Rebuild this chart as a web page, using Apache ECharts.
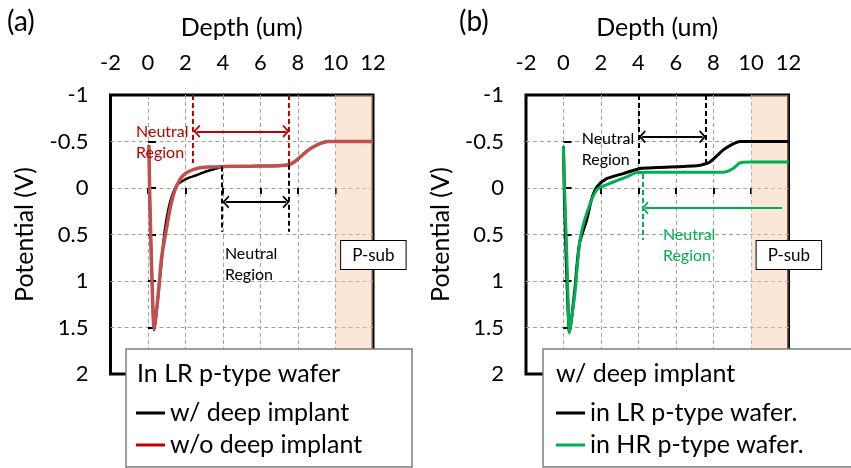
<!DOCTYPE html>
<html><head><meta charset="utf-8">
<script src="https://cdn.jsdelivr.net/npm/echarts/dist/echarts.min.js"></script>
<style>html,body{margin:0;padding:0;background:#fff;}#c{width:851px;height:468px;}</style>
</head><body><div id="c"></div>
<script>
const FONT = 'Lato, "Open Sans", sans-serif';
// ---- axis settings ----
const depthMin = -2, depthMax = 12, depthStep = 2;
const potMin = -1, potMax = 2, potStep = 0.5;
const psubRange = [10, 12];

// ---- panel (a): LR p-type wafer ----
const aDeepX = [0.05, 0.10, 0.20, 0.28, 0.32, 0.40, 0.55, 0.73, 0.90, 1.17, 1.53, 1.80, 2.06, 2.60, 3.13, 3.84, 4.20, 5.50, 7.00, 7.50, 7.80, 8.10, 8.50, 8.80, 9.20, 9.60, 10.0, 12.0];
const aDeepY = [-0.46, 0.16, 0.90, 1.40, 1.53, 1.43, 1.15, 0.78, 0.45, 0.16, -0.03, -0.07, -0.10, -0.14, -0.18, -0.22, -0.23, -0.235, -0.24, -0.25, -0.28, -0.33, -0.40, -0.44, -0.48, -0.50, -0.50, -0.50];
const aNoDeepX = [0.05, 0.10, 0.20, 0.28, 0.33, 0.40, 0.55, 0.73, 1.00, 1.20, 1.44, 1.70, 1.90, 2.20, 2.60, 3.20, 4.00, 5.50, 7.00, 7.50, 7.80, 8.10, 8.50, 8.80, 9.20, 9.60, 10.0, 12.0];
const aNoDeepY = [-0.46, 0.16, 0.90, 1.40, 1.52, 1.42, 1.13, 0.74, 0.42, 0.20, 0.02, -0.09, -0.14, -0.18, -0.21, -0.225, -0.23, -0.235, -0.24, -0.25, -0.28, -0.33, -0.40, -0.44, -0.48, -0.50, -0.50, -0.50];

// ---- panel (b): with deep implant ----
const bLRX = [0.00, 0.05, 0.15, 0.25, 0.31, 0.40, 0.60, 0.85, 1.24, 1.50, 1.77, 2.30, 3.19, 4.08, 5.00, 7.10, 7.50, 7.81, 8.20, 8.52, 9.00, 9.41, 10.0, 12.0];
const bLRY = [-0.45, 0.10, 0.80, 1.35, 1.55, 1.45, 1.10, 0.60, 0.34, 0.12, -0.01, -0.10, -0.155, -0.21, -0.22, -0.24, -0.255, -0.28, -0.35, -0.41, -0.47, -0.50, -0.50, -0.50];
const bHRX = [-0.01, 0.04, 0.18, 0.26, 0.31, 0.40, 0.61, 0.88, 1.24, 1.77, 2.48, 3.37, 3.90, 4.40, 6.00, 8.00, 8.52, 9.05, 9.41, 9.95, 12.0];
const bHRY = [-0.45, -0.09, 0.74, 1.35, 1.56, 1.45, 1.13, 0.56, 0.27, 0.02, -0.05, -0.12, -0.165, -0.17, -0.17, -0.17, -0.17, -0.21, -0.27, -0.28, -0.28];

// ---- texts ----
const panelTags = ['(a)', '(b)'];
const xTitle = 'Depth (um)';
const yTitle = 'Potential (V)';
const legendTitles = ['In LR p-type wafer', 'w/ deep implant'];
const aNames = ['w/ deep implant', 'w/o deep implant'];
const bNames = ['in LR p-type wafer.', 'in HR p-type wafer.'];
const regionText = 'Neutral\nRegion';
const psubText = 'P-sub';

// ---- annotation anchors (data coords) ----
const aRedDash = [[2.4, -1, -0.27], [7.5, -1, -0.25]];
const aRedArrow = [2.6, 7.36, -0.61];
const aBlkDash = [[3.95, -0.23, 0.47], [7.5, -0.25, 0.47]];
const aBlkArrow = [4.15, 7.36, 0.15];
const aRedText = [-0.64, -0.72];
const aBlkText = [4.1, 0.6];
const bBlkDash = [[4.03, -1, -0.22], [7.6, -1, -0.26]];
const bBlkArrow = [4.2, 7.42, -0.55];
const bGrnDash = [4.24, -0.15, 0.56];
const bGrnArrow = [11.65, 4.35, 0.215];
const bBlkText = [0.97, -0.64];
const bGrnText = [5.3, 0.39];
const psubAnchor = [10.3, 0.57];

const RED = '#C0504D', RED_DARK = '#C00000', GREEN = '#00B050', BLK = '#000';

function zip(xs, ys) { return xs.map((x, i) => [x, ys[i]]); }
const chev = 'path://M6,0 L12,6 L10.6,7 L6,2.4 L1.4,7 L0,6 Z';

function vDash(x, y0, y1, color) {
  const ls = { color: color, type: [5, 3], width: 2 };
  return [{ coord: [x, y0], symbol: 'none', lineStyle: ls }, { coord: [x, y1], symbol: 'none', lineStyle: ls }];
}
function hArrow(x0, x1, y, color, both) {
  const ls = { color: color, type: 'solid', width: 2 };
  return [
    { coord: [x0, y], symbol: both ? chev : 'none', symbolSize: [13, 7], lineStyle: ls, itemStyle: { color: color } },
    { coord: [x1, y], symbol: chev, symbolSize: [13, 7], lineStyle: ls, itemStyle: { color: color } }
  ];
}
function mk(items) {
  return { silent: true, symbol: ['none', 'none'], label: { show: false }, animation: false, emphasis: { disabled: true }, data: items };
}

const gridBase = { top: 95, height: 279, width: 262.5, show: true, borderColor: '#000', borderWidth: 3, backgroundColor: 'transparent' };
const splitCfg = { show: true, showMinLine: false, showMaxLine: false, lineStyle: { color: '#A0A0A0', type: [4, 3], width: 1 } };
function xAx(gi) {
  return {
    gridIndex: gi, type: 'value', position: 'top', min: depthMin, max: depthMax, interval: depthStep,
    name: xTitle, nameLocation: 'middle', nameGap: 55, nameTextStyle: { fontFamily: FONT, fontSize: 25, color: '#000' },
    axisLine: { show: false },
    axisTick: { show: true, inside: true, length: 6, lineStyle: { color: '#000', width: 2 } },
    axisLabel: { margin: 21, fontFamily: FONT, fontSize: 22, color: '#000' },
    splitLine: splitCfg
  };
}
function yAx(gi) {
  return {
    gridIndex: gi, type: 'value', inverse: true, min: potMin, max: potMax, interval: potStep,
    name: yTitle, nameLocation: 'middle', nameGap: 73, nameTextStyle: { fontFamily: FONT, fontSize: 25, color: '#000' },
    axisLine: { show: false },
    axisTick: { show: true, inside: true, length: 8, lineStyle: { color: '#000', width: 2 } },
    axisLabel: { margin: 22, fontFamily: FONT, fontSize: 22, color: '#000' },
    splitLine: splitCfg
  };
}
function shade(gi) {
  return {
    type: 'line', xAxisIndex: gi, yAxisIndex: gi, data: [], z: 1, silent: true,
    markArea: { silent: true, animation: false, itemStyle: { color: 'rgba(246,200,166,0.45)' }, data: [[{ xAxis: psubRange[0] }, { xAxis: psubRange[1] }]] }
  };
}
function legendCfg(left, names, colors) {
  return {
    left: left, top: 399, orient: 'vertical', selectedMode: false, z: 10, padding: 0,
    icon: 'rect', itemWidth: 29, itemHeight: 3, itemGap: 4,
    textStyle: { fontFamily: FONT, fontSize: 25, color: '#000', lineHeight: 28 },
    data: names.map((n, i) => ({ name: n, itemStyle: { color: colors[i] } }))
  };
}

const chart = echarts.init(document.getElementById('c'), null, { renderer: 'canvas' });
const option = {
  animation: false,
  backgroundColor: '#fff',
  grid: [Object.assign({ left: 110.5 }, gridBase), Object.assign({ left: 526 }, gridBase)],
  xAxis: [xAx(0), xAx(1)],
  yAxis: [yAx(0), yAx(1)],
  legend: [legendCfg(136, aNames, [BLK, RED_DARK]), legendCfg(556, bNames, [BLK, GREEN])],
  series: [
    shade(0), shade(1),
    {
      name: aNames[0], type: 'line', xAxisIndex: 0, yAxisIndex: 0, data: zip(aDeepX, aDeepY), showSymbol: false, smooth: 0.25, z: 2,
      lineStyle: { color: BLK, width: 2.5 }, itemStyle: { color: BLK },
      markLine: mk([vDash(aBlkDash[0][0], aBlkDash[0][1], aBlkDash[0][2], BLK), vDash(aBlkDash[1][0], aBlkDash[1][1], aBlkDash[1][2], BLK), hArrow(aBlkArrow[0], aBlkArrow[1], aBlkArrow[2], BLK, true)])
    },
    {
      name: aNames[1], type: 'line', xAxisIndex: 0, yAxisIndex: 0, data: zip(aNoDeepX, aNoDeepY), showSymbol: false, smooth: 0.25, z: 3,
      lineStyle: { color: RED, width: 3.5 }, itemStyle: { color: RED },
      markLine: mk([vDash(aRedDash[0][0], aRedDash[0][1], aRedDash[0][2], RED_DARK), vDash(aRedDash[1][0], aRedDash[1][1], aRedDash[1][2], RED_DARK), hArrow(aRedArrow[0], aRedArrow[1], aRedArrow[2], RED_DARK, true)])
    },
    {
      name: bNames[0], type: 'line', xAxisIndex: 1, yAxisIndex: 1, data: zip(bLRX, bLRY), showSymbol: false, smooth: 0.25, z: 2,
      lineStyle: { color: BLK, width: 3 }, itemStyle: { color: BLK },
      markLine: mk([vDash(bBlkDash[0][0], bBlkDash[0][1], bBlkDash[0][2], BLK), vDash(bBlkDash[1][0], bBlkDash[1][1], bBlkDash[1][2], BLK), hArrow(bBlkArrow[0], bBlkArrow[1], bBlkArrow[2], BLK, true)])
    },
    {
      name: bNames[1], type: 'line', xAxisIndex: 1, yAxisIndex: 1, data: zip(bHRX, bHRY), showSymbol: false, smooth: 0.25, z: 3,
      lineStyle: { color: GREEN, width: 3 }, itemStyle: { color: GREEN },
      markLine: mk([vDash(bGrnDash[0], bGrnDash[1], bGrnDash[2], GREEN), hArrow(bGrnArrow[0], bGrnArrow[1], bGrnArrow[2], GREEN, false)])
    }
  ]
};
chart.setOption(option);

function px(gi, p) { return chart.convertToPixel({ gridIndex: gi }, p); }
function regionLabel(gi, p, color) {
  const q = px(gi, p);
  return { type: 'text', x: q[0], y: q[1], z: 8, style: { text: regionText, fill: color, font: '16px ' + FONT, lineHeight: 21, textVerticalAlign: 'top' } };
}
function psubBox(gi) {
  const q = px(gi, psubAnchor);
  return { type: 'text', x: q[0], y: q[1], z: 8, style: { text: psubText, fill: '#000', font: '17px ' + FONT, backgroundColor: '#fff', borderColor: '#000', borderWidth: 1, padding: [6, 11, 5, 11] } };
}
const graphics = [
  { type: 'text', x: 7, y: 8, style: { text: panelTags[0], fill: '#000', font: '28px ' + FONT } },
  { type: 'text', x: 459, y: 8, style: { text: panelTags[1], fill: '#000', font: '28px ' + FONT } },
  regionLabel(0, aRedText, RED_DARK), regionLabel(0, aBlkText, BLK),
  regionLabel(1, bBlkText, BLK), regionLabel(1, bGrnText, GREEN),
  psubBox(0), psubBox(1),
  { type: 'rect', z: 6, shape: { x: 126, y: 349, width: 286, height: 118 }, style: { fill: '#fff', stroke: '#7F7F7F', lineWidth: 1.5 } },
  { type: 'rect', z: 6, shape: { x: 543, y: 349, width: 330, height: 118 }, style: { fill: '#fff', stroke: '#7F7F7F', lineWidth: 1.5 } },
  { type: 'text', z: 11, x: 137, y: 361, style: { text: legendTitles[0], fill: '#000', font: '25px ' + FONT } },
  { type: 'text', z: 11, x: 556, y: 361, style: { text: legendTitles[1], fill: '#000', font: '25px ' + FONT } }
];
chart.setOption({ graphic: graphics });
</script></body></html>
